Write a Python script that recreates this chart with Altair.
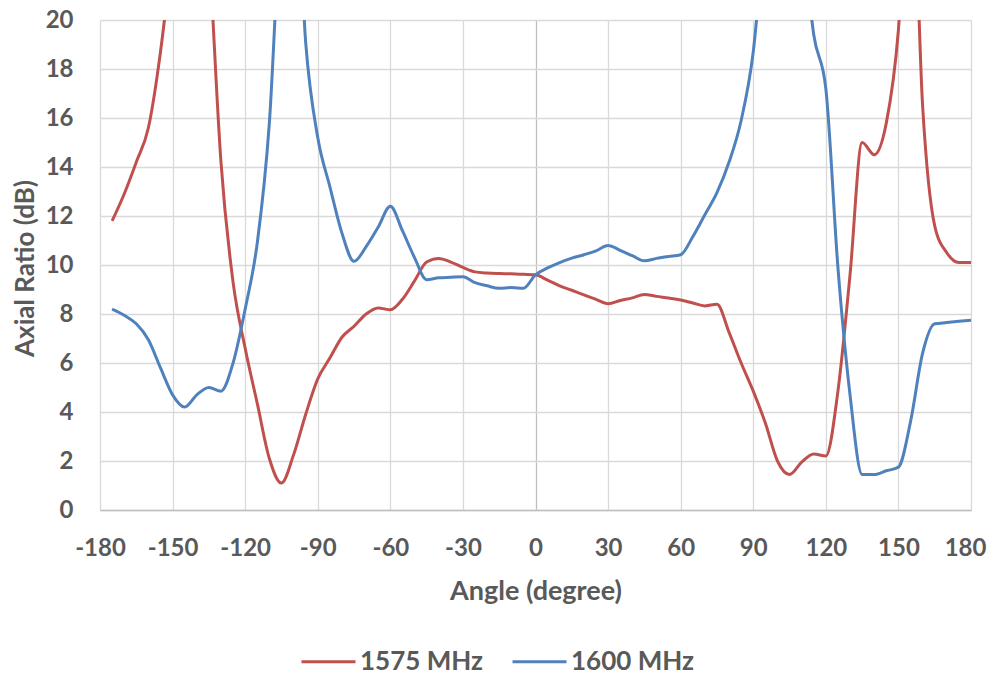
import altair as alt
import pandas as pd

angles = [-175, -170, -165, -160, -155, -150, -145, -140, -135, -130, -125, -120,
          -115, -110, -105, -100, -95, -90, -85, -80, -75, -70, -65, -60,
          -55, -50, -45, -40, -35, -30, -25, -20, -15, -10, -5, 0,
          5, 10, 15, 20, 25, 30, 35, 40, 45, 50, 55, 60,
          65, 70, 75, 80, 85, 90, 95, 100, 105, 110, 115, 120,
          125, 130, 135, 140, 145, 150, 155, 160, 165, 170, 175, 180]

ar_1575 = [11.8, 12.9, 14.2, 15.6, 18.7, 23.0, 28.0, 30.0, 23.0, 14.2, 9.3, 6.6,
           4.35, 2.1, 1.1, 2.25, 3.9, 5.35, 6.2, 7.05, 7.5, 8.0, 8.25, 8.17,
           8.6, 9.35, 10.12, 10.27, 10.12, 9.9, 9.72, 9.67, 9.65, 9.64, 9.62, 9.6,
           9.38, 9.15, 8.97, 8.78, 8.6, 8.42, 8.55, 8.66, 8.8, 8.72, 8.65, 8.57,
           8.45, 8.33, 8.4, 7.25, 6.0, 4.85, 3.55, 2.0, 1.45, 1.95, 2.29, 2.2,
           4.85, 9.6, 15.0, 14.5, 15.8, 19.6, 28.0, 16.5, 11.6, 10.5, 10.1, 10.1]

ar_1600 = [8.2, 7.95, 7.6, 6.95, 5.8, 4.7, 4.2, 4.7, 5.0, 4.85, 6.0, 8.2,
           10.9, 15.8, 24.9, 28.0, 19.1, 15.2, 13.2, 11.3, 10.15, 10.75, 11.55, 12.4,
           11.4, 10.3, 9.4, 9.48, 9.5, 9.52, 9.28, 9.15, 9.05, 9.08, 9.05, 9.6,
           9.88, 10.1, 10.28, 10.42, 10.58, 10.8, 10.6, 10.38, 10.17, 10.27, 10.35, 10.42,
           11.15, 12.05, 12.95, 14.2, 15.9, 18.7, 24.0, 28.0, 28.0, 24.0, 19.4, 17.2,
           9.9, 4.7, 1.45, 1.45, 1.6, 1.75, 3.6, 6.4, 7.6, 7.65, 7.7, 7.75]

series_names = ["1575 MHz", "1600 MHz"]
series_colors = ["#C0504D", "#4F81BD"]
x_ticks = [-180, -150, -120, -90, -60, -30, 0, 30, 60, 90, 120, 150, 180]
y_ticks = [0, 2, 4, 6, 8, 10, 12, 14, 16, 18, 20]

df = pd.DataFrame({
    "angle": angles + angles,
    "ar": ar_1575 + ar_1600,
    "series": [series_names[0]] * len(angles) + [series_names[1]] * len(angles),
})

FONT = "Lato"
TXT = "#595959"
HYPHEN_LABEL = "datum.value < 0 ? '-' + abs(datum.value) : '' + datum.value"

lines = alt.Chart(df).mark_line(strokeWidth=3, interpolate="monotone", clip=True).encode(
    x=alt.X("angle:Q",
            scale=alt.Scale(domain=[-180, 180], nice=False, zero=False),
            axis=alt.Axis(values=x_ticks, title="Angle (degree)", grid=True,
                          labelExpr=HYPHEN_LABEL,
                          labelOffset={"condition": {"test": "datum.value === 180", "value": -6},
                                       "value": 0},
                          gridColor={"condition": {"test": "datum.value === 0", "value": "#bfbfbf"},
                                     "value": "#d9d9d9"},
                          gridWidth=1.3, ticks=False, tickSize=0,
                          domainColor="#bfbfbf", domainWidth=1.5,
                          labelFont=FONT, labelFontSize=24, labelFontWeight="bold",
                          labelColor=TXT, labelPadding=26, labelFlush=False,
                          titleFont=FONT, titleFontSize=27, titleFontWeight="bold",
                          titleColor=TXT, titleX=435.5, titleY=89,
                          titleAlign="center", titleBaseline="alphabetic")),
    y=alt.Y("ar:Q",
            scale=alt.Scale(domain=[0, 20], nice=False),
            axis=alt.Axis(values=y_ticks, title="Axial Ratio (dB)", grid=True,
                          gridColor="#d9d9d9", gridWidth=1.3,
                          ticks=False, tickSize=0, domain=False,
                          labelFont=FONT, labelFontSize=24, labelFontWeight="bold",
                          labelColor=TXT, labelPadding=27,
                          titleFont=FONT, titleFontSize=26, titleFontWeight="bold",
                          titleColor=TXT, titleAngle=270, titleX=-67, titleY=248,
                          titleAlign="center", titleBaseline="alphabetic")),
    color=alt.Color("series:N",
                    scale=alt.Scale(domain=series_names, range=series_colors),
                    legend=alt.Legend(title=None, orient="none", direction="horizontal",
                                      legendX=200, legendY=613,
                                      symbolType="stroke", symbolSize=2916,
                                      symbolStrokeWidth=3, labelOffset=3,
                                      columnPadding=23, padding=0,
                                      labelFont=FONT, labelFontSize=26,
                                      labelFontWeight="bold", labelColor=TXT)),
)

chart = lines.properties(
    width=871, height=490,
    padding={"left": 92, "top": 12, "right": 16, "bottom": 166},
    autosize=alt.AutoSizeParams(type="none"),
).configure_view(stroke=None)

chart.save("out.html", embed_options={"renderer": "svg", "actions": False})
